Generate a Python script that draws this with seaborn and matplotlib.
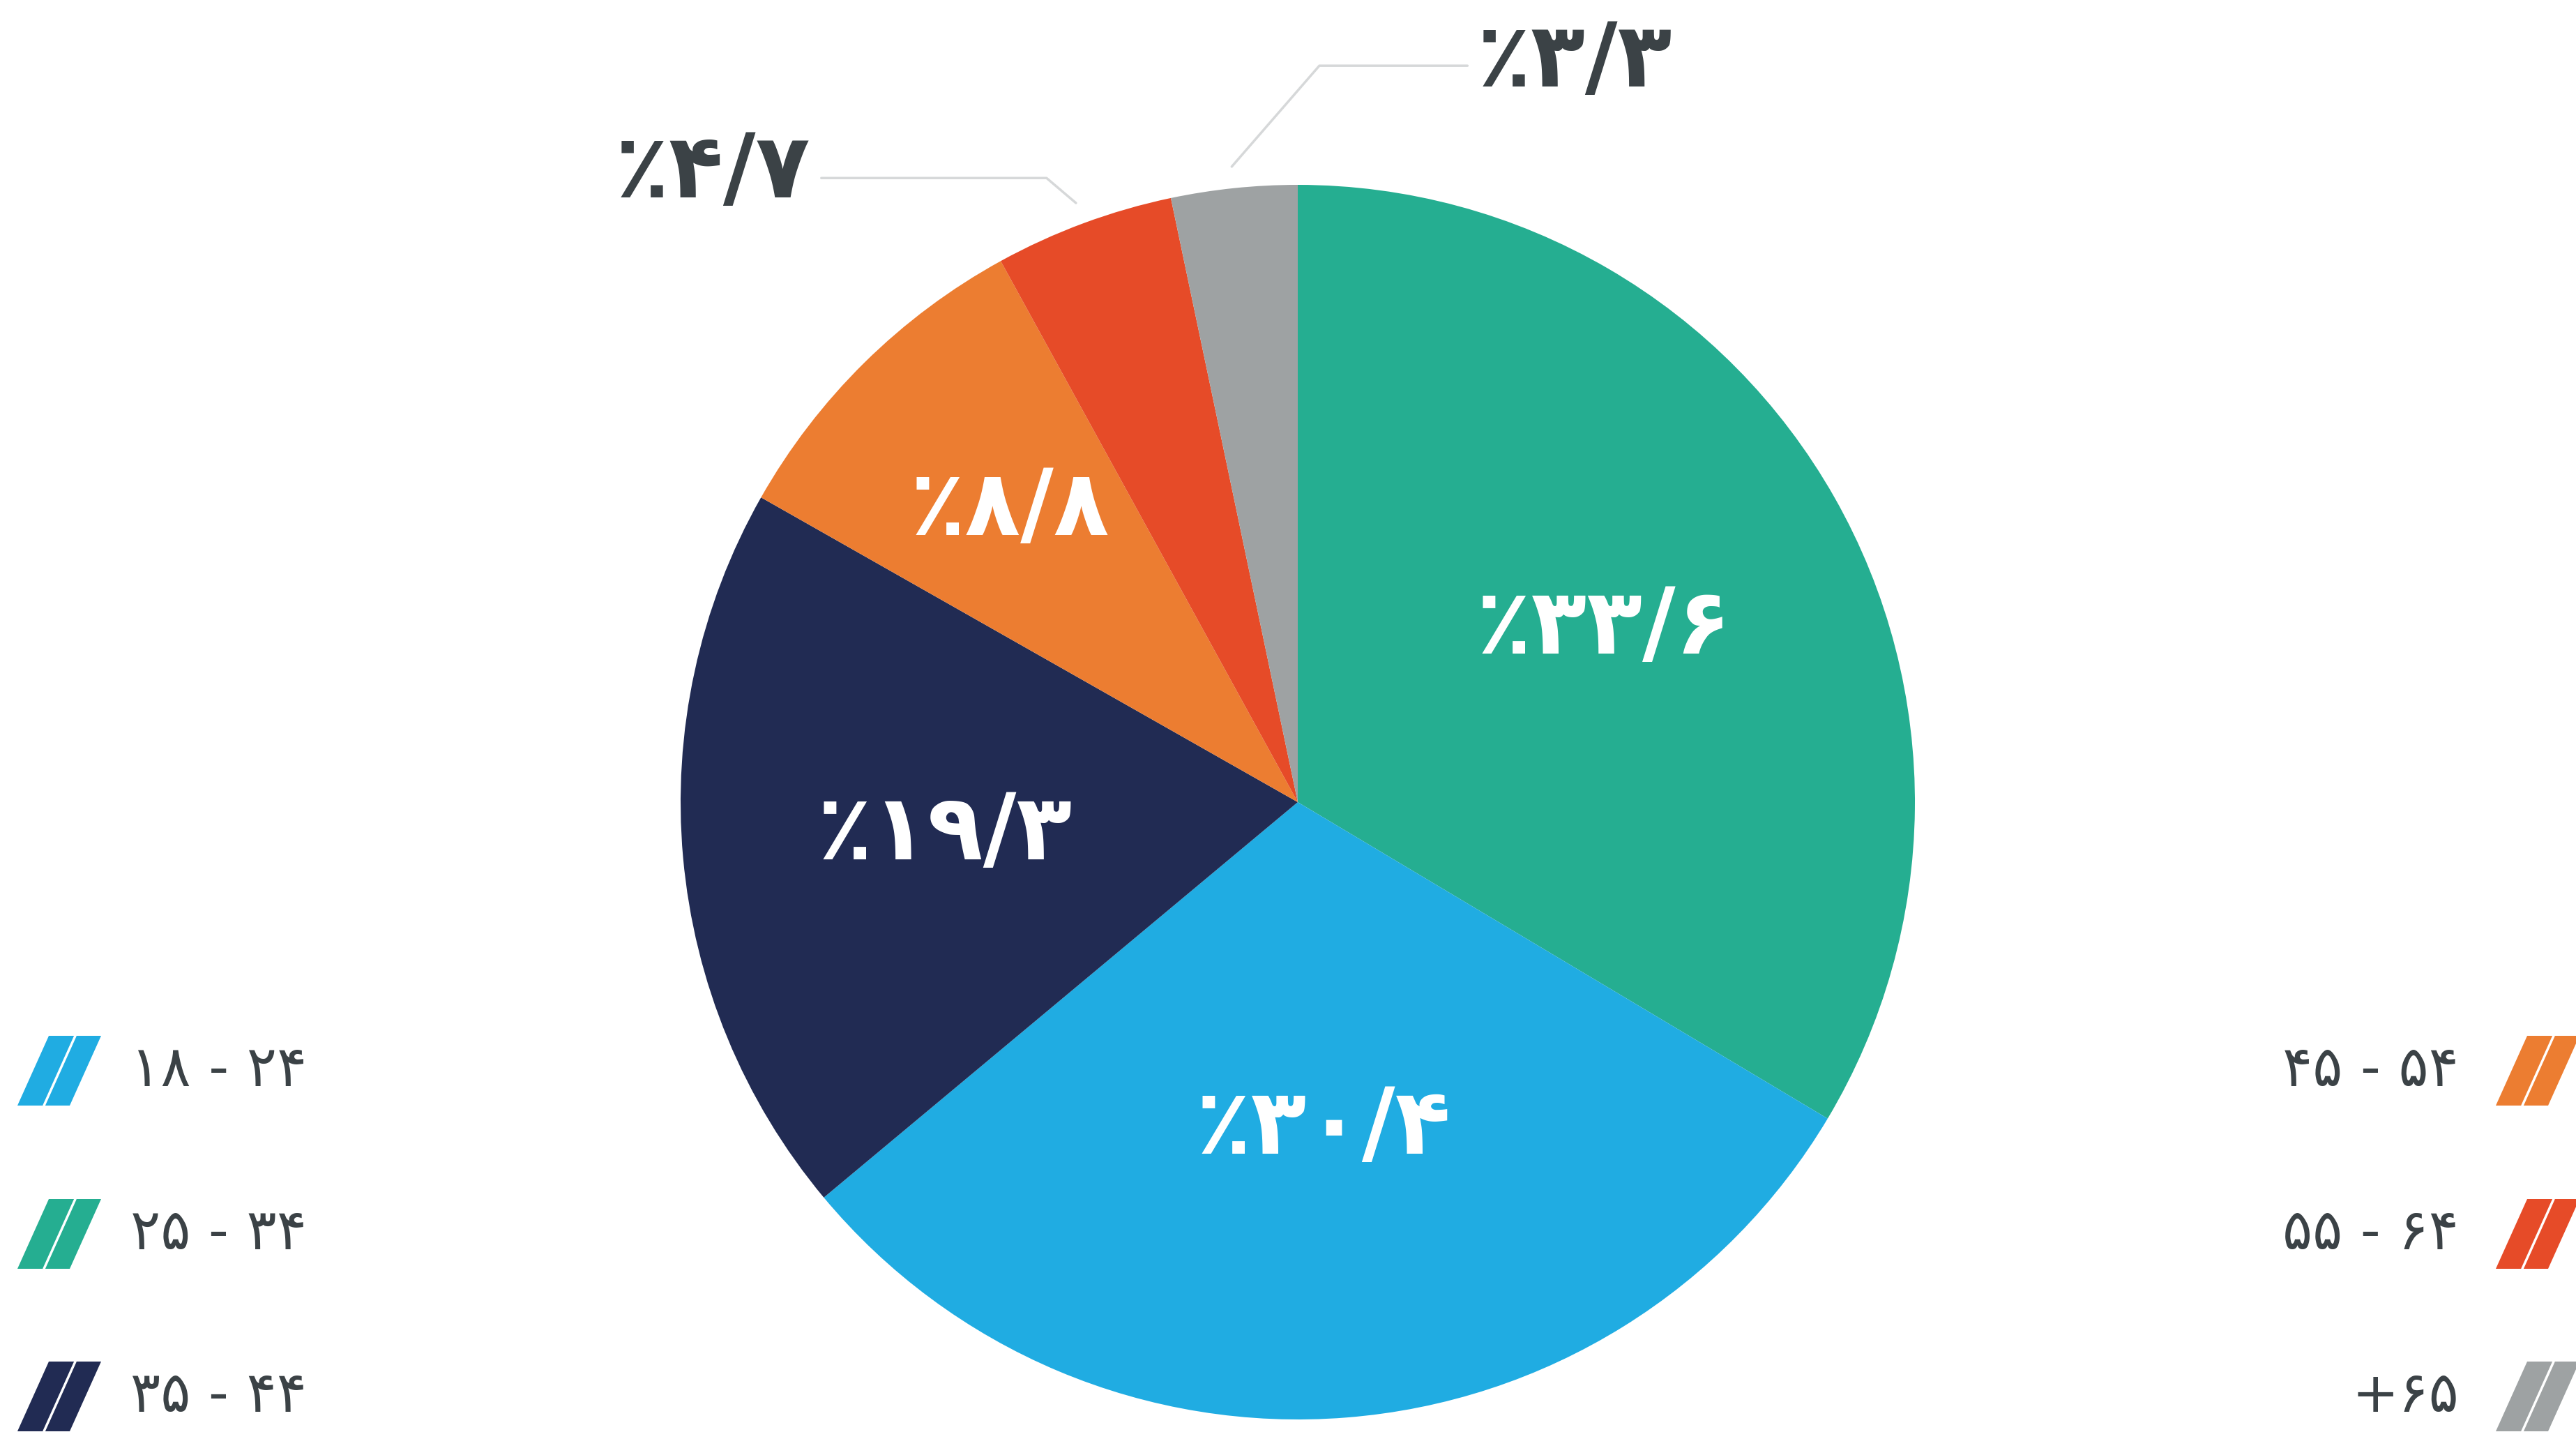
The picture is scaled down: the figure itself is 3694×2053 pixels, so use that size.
import matplotlib
matplotlib.use("Agg")
import matplotlib.pyplot as plt
import seaborn as sns
import numpy as np
from matplotlib.patches import Polygon
from matplotlib.lines import Line2D

# ==========================================
# Data (clockwise from 12 o'clock)
# ==========================================
age_groups = ["۲۵ - ۳۴", "۱۸ - ۲۴", "۳۵ - ۴۴", "۴۵ - ۵۴", "۵۵ - ۶۴", "+۶۵"]
shares = [33.6, 30.4, 19.3, 8.8, 4.7, 3.3]
share_labels = ["٪۳۳/۶", "٪۳۰/۴", "٪۱۹/۳", "٪۸/۸", "٪۴/۷", "٪۳/۳"]
slice_colors = ["#25AE91", "#20ACE2", "#212B53", "#EC7D31", "#E64B28", "#9EA2A3"]

# legend columns (index into the lists above)
legend_left = [1, 0, 2]
legend_right = [3, 4, 5]

# ==========================================
# Figure setup
# ==========================================
sns.set_theme(style="white")
plt.rcParams['font.family'] = ['DejaVu Sans']
text_dark = "#3B4246"

W, H = 3694, 2053
fig = plt.figure(figsize=(W / 100, H / 100), dpi=100)
fig.patch.set_facecolor("white")
ax = fig.add_axes([0, 0, 1, 1])

cx, cy, R = 1861, 1150, 885
palette = sns.color_palette(slice_colors)

wedges, _ = ax.pie(
    shares,
    colors=palette,
    startangle=90,
    counterclock=False,
    radius=1,
    wedgeprops=dict(linewidth=0),
)
ax.set_xlim(-cx / R, (W - cx) / R)
ax.set_ylim(-(H - cy) / R, cy / R)
ax.set_aspect('auto')
ax.axis('off')

# ==========================================
# Labels inside the big slices
# ==========================================
inner_r = [0.57, 0.53, 0.575, 0.665]
for w, lab, r in zip(wedges[:4], share_labels[:4], inner_r):
    ang = np.deg2rad((w.theta1 + w.theta2) / 2)
    ax.text(r * np.cos(ang), r * np.sin(ang), lab, ha='center', va='center',
            color='white', fontsize=94, fontweight='bold')

# ==========================================
# Small slices: leader lines + outside labels
# ==========================================
outer = {
    4: dict(elbow=(-0.407, 1.011), end=(-0.772, 1.011), txt=(-0.79, 1.02), ha='right'),
    5: dict(elbow=(0.035, 1.193), end=(0.275, 1.193), txt=(0.29, 1.20), ha='left'),
}
for i, o in outer.items():
    w = wedges[i]
    ang = np.deg2rad((w.theta1 + w.theta2) / 2)
    sx, sy = 1.035 * np.cos(ang), 1.035 * np.sin(ang)
    ax.plot([sx, o['elbow'][0], o['end'][0]], [sy, o['elbow'][1], o['end'][1]],
            color="#D6D8D9", lw=2.5, clip_on=False)
    ax.text(o['txt'][0], o['txt'][1], share_labels[i], ha=o['ha'], va='center',
            color=text_dark, fontsize=92, fontweight='bold')

# ==========================================
# Legend (parallelogram markers)
# ==========================================
def px(x, y):
    return (x / W, 1 - y / H)

def marker(x0, yc, color):
    yt, yb = yc - 50, yc + 50
    pts = [px(x0, yb), px(x0 + 75, yb), px(x0 + 120, yt), px(x0 + 45, yt)]
    fig.add_artist(Polygon(pts, closed=True, facecolor=color, edgecolor='none',
                           transform=fig.transFigure))
    a, b = px(x0 + 38, yb), px(x0 + 83, yt)
    fig.add_artist(Line2D([a[0], b[0]], [a[1], b[1]], color='white', lw=2.5,
                          transform=fig.transFigure))

row_y = [1535, 1769, 2002]
for yc, idx in zip(row_y, legend_left):
    marker(25, yc, slice_colors[idx])
    fx, fy = px(187, yc)
    fig.text(fx, fy, age_groups[idx], ha='left', va='center', color=text_dark, fontsize=58)

for yc, idx in zip(row_y, legend_right):
    marker(3579, yc, slice_colors[idx])
    fx, fy = px(3526, yc)
    fig.text(fx, fy, age_groups[idx], ha='right', va='center', color=text_dark, fontsize=58)

plt.savefig("out.png", dpi=100, facecolor="white")
